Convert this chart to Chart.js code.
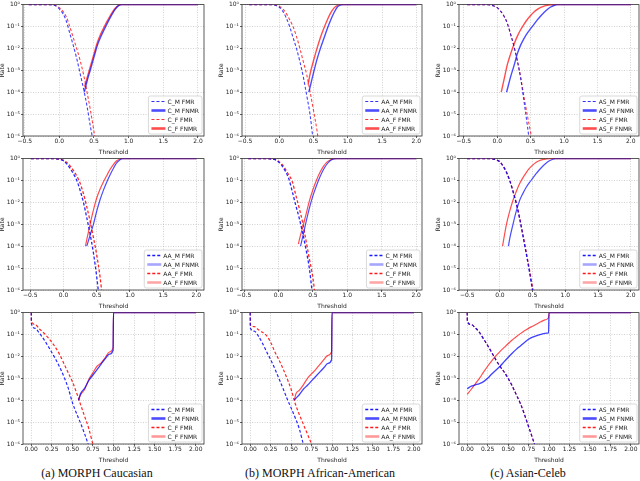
<!DOCTYPE html>
<html>
<head>
<meta charset="utf-8">
<script src="https://cdn.jsdelivr.net/npm/chart.js@4.4.0/dist/chart.umd.min.js"></script>
<style>
  body { margin: 0; background: #fff; width: 640px; height: 481px; position: relative; overflow: hidden; }
  .cap { position: absolute; top: 466px; width: 220px; text-align: center; font: 12px 'Liberation Serif', 'Times New Roman', serif; color: #111; line-height: 15px; }
</style>
</head>
<body>
<div class="cap" style="left:-13px">(a) MORPH Caucasian</div>
<div class="cap" style="left:210px">(b) MORPH African-American</div>
<div class="cap" style="left:418px">(c) Asian-Celeb</div>
<script>
// tick values
const rateTicks = [1e-6, 1e-5, 1e-4, 1e-3, 1e-2, 1e-1, 1];
const thrTicksWide = [-0.5, 0.0, 0.5, 1.0, 1.5, 2.0];
const thrTicksUnit = [0.0, 0.25, 0.5, 0.75, 1.0, 1.25, 1.5, 1.75, 2.0];

// every series is [threshold, log10(rate)]

// row 1, MORPH Caucasian
const c1_mFMR  = [[-0.44,0],[-0.2,0],[-0.1,-0.02],[-0.05,-0.06],[0,-0.2],[0.05,-0.4],[0.1,-0.75],[0.15,-1.3],[0.2,-1.85],[0.25,-2.45],[0.3,-3.15],[0.35,-3.85],[0.4,-4.65],[0.45,-5.6],[0.48,-6.1]];
const c1_mFNMR = [[0.36,-4.0],[0.4,-3.5],[0.45,-2.95],[0.5,-2.4],[0.55,-1.85],[0.6,-1.45],[0.65,-1.12],[0.7,-0.8],[0.75,-0.5],[0.8,-0.24],[0.85,-0.06],[0.9,0],[2.0,0]];
const c1_fFMR  = [[-0.44,0],[-0.2,0],[-0.1,-0.01],[-0.05,-0.04],[0,-0.14],[0.05,-0.3],[0.1,-0.55],[0.15,-1.0],[0.2,-1.5],[0.25,-2.0],[0.3,-2.55],[0.35,-3.2],[0.4,-4.0],[0.45,-4.85],[0.5,-5.8],[0.52,-6.2]];
const c1_fFNMR = [[0.365,-3.75],[0.4,-3.35],[0.45,-2.8],[0.5,-2.25],[0.55,-1.72],[0.6,-1.32],[0.65,-1.0],[0.7,-0.7],[0.75,-0.42],[0.8,-0.19],[0.85,-0.04],[0.9,0],[2.0,0]];

// row 1, MORPH African-American
const a1_mFMR  = [[-0.44,0],[-0.2,0],[-0.1,-0.01],[-0.05,-0.04],[0,-0.12],[0.05,-0.3],[0.1,-0.6],[0.15,-1.0],[0.2,-1.5],[0.25,-2.0],[0.3,-2.6],[0.35,-3.3],[0.4,-4.15],[0.45,-5.05],[0.49,-6.1]];
const a1_mFNMR = [[0.43,-4.0],[0.45,-3.75],[0.5,-3.1],[0.55,-2.5],[0.6,-2.0],[0.65,-1.55],[0.7,-1.1],[0.75,-0.7],[0.8,-0.36],[0.85,-0.1],[0.9,-0.01],[0.93,0],[2.0,0]];
const a1_fFMR  = [[-0.44,0],[-0.2,0],[-0.1,-0.01],[-0.05,-0.03],[0,-0.08],[0.05,-0.2],[0.1,-0.4],[0.15,-0.68],[0.2,-1.0],[0.25,-1.45],[0.3,-2.0],[0.35,-2.6],[0.4,-3.2],[0.45,-4.0],[0.5,-4.85],[0.55,-5.75],[0.57,-6.2]];
const a1_fFNMR = [[0.42,-3.65],[0.45,-3.15],[0.5,-2.55],[0.55,-2.0],[0.6,-1.5],[0.65,-1.08],[0.7,-0.7],[0.75,-0.38],[0.8,-0.15],[0.85,-0.03],[0.88,0],[2.0,0]];

// row 1, Asian-Celeb
const s1_mFMR  = [[-0.45,0],[-0.2,0],[-0.1,-0.02],[-0.05,-0.06],[0,-0.14],[0.05,-0.3],[0.1,-0.52],[0.15,-0.85],[0.2,-1.35],[0.25,-1.9],[0.3,-2.55],[0.35,-3.35],[0.4,-4.4],[0.45,-5.5],[0.48,-6.2]];
const s1_mFNMR = [[0.14,-4.0],[0.2,-3.3],[0.25,-2.8],[0.3,-2.25],[0.35,-1.85],[0.4,-1.55],[0.45,-1.3],[0.5,-1.1],[0.55,-0.9],[0.6,-0.7],[0.65,-0.52],[0.7,-0.36],[0.75,-0.22],[0.8,-0.11],[0.85,-0.04],[0.9,0],[2.0,0]];
const s1_fFMR  = [[-0.45,0],[-0.2,0],[-0.1,-0.02],[-0.05,-0.06],[0,-0.14],[0.05,-0.3],[0.1,-0.52],[0.15,-0.85],[0.2,-1.35],[0.25,-1.9],[0.3,-2.55],[0.35,-3.3],[0.4,-4.2],[0.45,-5.05],[0.5,-5.85],[0.52,-6.2]];
const s1_fFNMR = [[0.06,-4.0],[0.1,-3.45],[0.15,-2.75],[0.2,-2.25],[0.25,-1.82],[0.3,-1.45],[0.35,-1.15],[0.4,-0.9],[0.45,-0.68],[0.5,-0.5],[0.55,-0.34],[0.6,-0.22],[0.65,-0.13],[0.7,-0.07],[0.75,-0.03],[0.8,-0.01],[0.86,0],[2.0,0]];

// row 2, MORPH Caucasian column (legend reads AA)
const a2_mFMR  = [[-0.49,0],[-0.2,0],[-0.1,-0.01],[-0.05,-0.04],[0,-0.1],[0.05,-0.25],[0.1,-0.45],[0.15,-0.7],[0.2,-1.0],[0.25,-1.45],[0.3,-2.0],[0.35,-2.7],[0.4,-3.45],[0.45,-4.3],[0.5,-5.4],[0.53,-6.2]];
const a2_mFNMR = [[0.35,-4.0],[0.4,-3.5],[0.45,-3.0],[0.5,-2.4],[0.55,-1.88],[0.6,-1.45],[0.65,-1.08],[0.7,-0.75],[0.75,-0.45],[0.8,-0.2],[0.85,-0.05],[0.89,0],[2.0,0]];
const a2_fFMR  = [[-0.49,0],[-0.2,0],[-0.1,-0.01],[-0.05,-0.03],[0,-0.08],[0.05,-0.18],[0.1,-0.34],[0.15,-0.55],[0.2,-0.8],[0.25,-1.12],[0.3,-1.6],[0.35,-2.2],[0.4,-2.85],[0.45,-3.6],[0.5,-4.4],[0.55,-5.4],[0.58,-6.2]];
const a2_fFNMR = [[0.33,-4.0],[0.35,-3.7],[0.4,-3.0],[0.45,-2.35],[0.5,-1.8],[0.55,-1.4],[0.6,-1.07],[0.65,-0.78],[0.7,-0.5],[0.75,-0.27],[0.8,-0.1],[0.85,-0.02],[0.88,0],[2.0,0]];

// row 2, MORPH African-American column (legend reads C)
const c2_mFMR  = [[-0.44,0],[-0.2,0],[-0.1,-0.02],[-0.05,-0.05],[0,-0.15],[0.05,-0.32],[0.1,-0.58],[0.15,-0.92],[0.2,-1.5],[0.25,-2.12],[0.3,-2.7],[0.35,-3.38],[0.4,-4.15],[0.45,-5.05],[0.49,-6.1]];
const c2_mFNMR = [[0.32,-4.0],[0.35,-3.6],[0.4,-2.9],[0.45,-2.25],[0.5,-1.7],[0.55,-1.25],[0.6,-0.85],[0.65,-0.52],[0.7,-0.27],[0.75,-0.1],[0.8,-0.02],[0.85,0],[2.0,0]];
const c2_fFMR  = [[-0.44,0],[-0.2,0],[-0.1,-0.01],[-0.05,-0.04],[0,-0.12],[0.05,-0.26],[0.1,-0.48],[0.15,-0.75],[0.2,-1.05],[0.25,-1.65],[0.3,-2.25],[0.35,-2.9],[0.4,-3.75],[0.45,-4.6],[0.5,-5.45],[0.53,-6.2]];
const c2_fFNMR = [[0.29,-3.9],[0.3,-3.75],[0.35,-3.15],[0.4,-2.55],[0.45,-1.92],[0.5,-1.42],[0.55,-1.0],[0.6,-0.65],[0.65,-0.37],[0.7,-0.17],[0.75,-0.06],[0.8,-0.01],[0.83,0],[2.0,0]];

// row 2, Asian-Celeb
const s2_mFMR  = [[-0.5,0],[-0.2,0],[-0.1,-0.02],[-0.05,-0.06],[0,-0.15],[0.05,-0.35],[0.1,-0.62],[0.15,-1.0],[0.2,-1.5],[0.25,-2.05],[0.3,-2.72],[0.35,-3.5],[0.4,-4.3],[0.45,-5.15],[0.5,-6.05]];
const s2_mFNMR = [[0.13,-4.0],[0.15,-3.65],[0.2,-3.0],[0.25,-2.4],[0.3,-1.92],[0.35,-1.6],[0.4,-1.32],[0.45,-1.1],[0.5,-0.9],[0.55,-0.7],[0.6,-0.52],[0.65,-0.36],[0.7,-0.22],[0.75,-0.11],[0.8,-0.04],[0.85,0],[2.0,0]];
const s2_fFMR  = [[-0.5,0],[-0.2,0],[-0.1,-0.02],[-0.05,-0.06],[0,-0.15],[0.05,-0.35],[0.1,-0.62],[0.15,-1.0],[0.2,-1.48],[0.25,-2.02],[0.3,-2.68],[0.35,-3.45],[0.4,-4.25],[0.45,-5.05],[0.5,-5.9],[0.52,-6.2]];
const s2_fFNMR = [[0.04,-4.0],[0.1,-3.0],[0.15,-2.4],[0.2,-1.9],[0.25,-1.5],[0.3,-1.15],[0.35,-0.88],[0.4,-0.65],[0.45,-0.45],[0.5,-0.3],[0.55,-0.18],[0.6,-0.1],[0.65,-0.05],[0.7,-0.02],[0.76,0],[2.0,0]];

// row 3, MORPH Caucasian
const c3_mFMR  = [[0,0],[0.002,-0.5],[0.05,-0.72],[0.1,-0.95],[0.15,-1.2],[0.2,-1.5],[0.25,-1.82],[0.3,-2.15],[0.35,-2.52],[0.4,-2.95],[0.45,-3.45],[0.5,-4.1],[0.55,-4.6],[0.6,-5.05],[0.65,-5.55],[0.7,-6.1]];
const c3_mFNMR = [[0.575,-4.0],[0.6,-3.7],[0.65,-3.45],[0.7,-3.1],[0.75,-2.85],[0.8,-2.6],[0.85,-2.35],[0.9,-2.1],[0.95,-1.9],[0.995,-1.72],[1.0,0],[2.0,0]];
const c3_fFMR  = [[0,0],[0.002,-0.37],[0.05,-0.55],[0.1,-0.75],[0.15,-0.92],[0.2,-1.12],[0.25,-1.35],[0.3,-1.62],[0.35,-1.95],[0.4,-2.35],[0.45,-2.75],[0.5,-3.15],[0.55,-3.65],[0.6,-4.2],[0.65,-4.75],[0.7,-5.3],[0.75,-6.0],[0.76,-6.1]];
const c3_fFNMR = [[0.575,-4.0],[0.6,-3.75],[0.65,-3.5],[0.7,-3.05],[0.75,-2.75],[0.8,-2.45],[0.85,-2.3],[0.9,-2.05],[0.95,-1.8],[0.995,-1.6],[1.0,0],[2.0,0]];

// row 3, MORPH African-American
const a3_mFMR  = [[0,0],[0.002,-0.7],[0.05,-0.85],[0.1,-1.07],[0.15,-1.4],[0.2,-1.78],[0.25,-2.15],[0.3,-2.55],[0.35,-3.0],[0.4,-3.45],[0.45,-3.92],[0.5,-4.35],[0.55,-4.8],[0.6,-5.3],[0.65,-6.0],[0.66,-6.1]];
const a3_mFNMR = [[0.54,-4.0],[0.55,-3.95],[0.6,-3.75],[0.65,-3.5],[0.7,-3.32],[0.75,-3.12],[0.8,-2.92],[0.85,-2.72],[0.9,-2.52],[0.95,-2.32],[0.995,-2.15],[1.0,0],[2.0,0]];
const a3_fFMR  = [[0,0],[0.002,-0.55],[0.05,-0.64],[0.1,-0.78],[0.15,-0.9],[0.2,-1.05],[0.25,-1.35],[0.3,-1.78],[0.35,-2.15],[0.4,-2.55],[0.45,-3.0],[0.5,-3.5],[0.55,-4.15],[0.6,-4.65],[0.65,-5.1],[0.7,-5.55],[0.75,-6.0],[0.76,-6.1]];
const a3_fFNMR = [[0.54,-4.0],[0.56,-3.7],[0.6,-3.55],[0.65,-3.3],[0.7,-3.0],[0.75,-2.8],[0.8,-2.6],[0.85,-2.38],[0.9,-2.15],[0.95,-1.95],[0.995,-1.78],[1.0,0],[2.0,0]];

// row 3, Asian-Celeb
const s3_mFMR  = [[0,0],[0.002,-0.4],[0.05,-0.55],[0.1,-0.7],[0.15,-0.9],[0.2,-1.2],[0.25,-1.5],[0.3,-1.82],[0.35,-2.15],[0.4,-2.45],[0.45,-2.7],[0.5,-3.0],[0.55,-3.35],[0.6,-3.75],[0.65,-4.15],[0.7,-4.65],[0.75,-5.2],[0.8,-5.75],[0.83,-6.1]];
const s3_mFNMR = [[0,-3.48],[0.05,-3.36],[0.1,-3.3],[0.15,-3.24],[0.2,-3.15],[0.25,-3.0],[0.3,-2.8],[0.35,-2.63],[0.4,-2.46],[0.45,-2.25],[0.5,-2.05],[0.55,-1.86],[0.6,-1.68],[0.65,-1.52],[0.7,-1.36],[0.75,-1.22],[0.8,-1.12],[0.85,-1.05],[0.9,-0.99],[0.95,-0.95],[0.995,-0.93],[1.0,0],[2.0,0]];
const s3_fFMR  = [[0,0],[0.002,-0.4],[0.05,-0.55],[0.1,-0.7],[0.15,-0.9],[0.2,-1.2],[0.25,-1.5],[0.3,-1.82],[0.35,-2.15],[0.4,-2.45],[0.45,-2.7],[0.5,-3.0],[0.55,-3.35],[0.6,-3.75],[0.65,-4.15],[0.7,-4.65],[0.75,-5.2],[0.8,-5.75],[0.83,-6.1]];
const s3_fFNMR = [[0,-3.73],[0.05,-3.5],[0.1,-3.25],[0.15,-3.0],[0.2,-2.72],[0.25,-2.45],[0.3,-2.2],[0.35,-1.98],[0.4,-1.78],[0.45,-1.6],[0.5,-1.42],[0.55,-1.25],[0.6,-1.1],[0.65,-0.96],[0.7,-0.83],[0.75,-0.72],[0.8,-0.62],[0.85,-0.52],[0.9,-0.42],[0.95,-0.33],[0.995,-0.22],[1.0,0],[2.0,0]];

const panels = [
  {row: 0, col: 0, m: 'C_M',  f: 'C_F',  xr: [-0.524, 2.087], xt: thrTicksWide, s: [c1_mFMR, c1_mFNMR, c1_fFMR, c1_fFNMR]},
  {row: 0, col: 1, m: 'AA_M', f: 'AA_F', xr: [-0.545, 2.083], xt: thrTicksWide, s: [a1_mFMR, a1_mFNMR, a1_fFMR, a1_fFNMR]},
  {row: 0, col: 2, m: 'AS_M', f: 'AS_F', xr: [-0.5725, 2.1225], xt: thrTicksWide, s: [s1_mFMR, s1_mFNMR, s1_fFMR, s1_fFNMR]},
  {row: 1, col: 0, m: 'AA_M', f: 'AA_F', xr: [-0.61, 2.115], xt: thrTicksWide, s: [a2_mFMR, a2_mFNMR, a2_fFMR, a2_fFNMR]},
  {row: 1, col: 1, m: 'C_M',  f: 'C_F',  xr: [-0.53, 2.085], xt: thrTicksWide, s: [c2_mFMR, c2_mFNMR, c2_fFMR, c2_fFNMR]},
  {row: 1, col: 2, m: 'AS_M', f: 'AS_F', xr: [-0.625, 2.125], xt: thrTicksWide, s: [s2_mFMR, s2_mFNMR, s2_fFMR, s2_fFNMR]},
  {row: 2, col: 0, m: 'C_M',  f: 'C_F',  xr: [-0.1, 2.1], xt: thrTicksUnit, s: [c3_mFMR, c3_mFNMR, c3_fFMR, c3_fFNMR]},
  {row: 2, col: 1, m: 'AA_M', f: 'AA_F', xr: [-0.1, 2.1], xt: thrTicksUnit, s: [a3_mFMR, a3_mFNMR, a3_fFMR, a3_fFNMR]},
  {row: 2, col: 2, m: 'AS_M', f: 'AS_F', xr: [-0.1, 2.1], xt: thrTicksUnit, s: [s3_mFMR, s3_mFNMR, s3_fFMR, s3_fFNMR]}
];

// plot-area geometry on the page
const colLeft = [23, 242, 459];
const colWidth = [181, 180, 180];
const rowTop = [3, 157, 311];
const plotH = 133;
const AXIS_W = 24, AXIS_H = 20, PAD_T = 3, PAD_R = 2;

const BLUE = a => `rgba(0,0,255,${a})`;
const RED = a => `rgba(255,0,0,${a})`;

// line look per row: [mFMR, mFNMR, fFMR, fFNMR]; lc/lw = legend swatch
function rowStyles(row) {
  if (row === 0) {
    return [
      {c: BLUE(0.75), w: 1.1, dash: [3, 2], lc: BLUE(0.8), lw: 1.1},
      {c: BLUE(0.7),  w: 1.4, dash: [],     lc: BLUE(0.7), lw: 2.6},
      {c: RED(0.75),  w: 1.1, dash: [3, 2], lc: RED(0.8),  lw: 1.1},
      {c: RED(0.7),   w: 1.4, dash: [],     lc: RED(0.7),  lw: 2.6}
    ];
  }
  if (row === 1) {
    return [
      {c: BLUE(0.85), w: 1.3, dash: [3, 2], lc: BLUE(0.9), lw: 1.6},
      {c: BLUE(0.7),  w: 1.2, dash: [],     lc: BLUE(0.35), lw: 2.6},
      {c: RED(0.85),  w: 1.3, dash: [3, 2], lc: RED(0.9),  lw: 1.6},
      {c: RED(0.7),   w: 1.2, dash: [],     lc: RED(0.35),  lw: 2.6}
    ];
  }
  return [
    {c: BLUE(0.85), w: 1.2, dash: [3, 2], lc: BLUE(0.9), lw: 1.6},
    {c: BLUE(0.75), w: 1.3, dash: [],     lc: BLUE(0.7), lw: 2.6},
    {c: RED(0.85),  w: 1.2, dash: [3, 2], lc: RED(0.9),  lw: 1.6},
    {c: RED(0.7),   w: 1.2, dash: [],     lc: RED(0.4),  lw: 2.6}
  ];
}

const SUP = {'-': '⁻', '0': '⁰', '1': '¹', '2': '²', '3': '³', '4': '⁴', '5': '⁵', '6': '⁶'};
function powLabel(v) {
  const e = Math.round(Math.log10(v));
  return '10' + String(e).split('').map(ch => SUP[ch]).join('');
}

Chart.defaults.font.family = "'DejaVu Sans', sans-serif";
Chart.defaults.font.size = 6;
Chart.defaults.color = '#222';

// box frame under the lines, legend box on top
const frameAndLegend = {
  id: 'frameAndLegend',
  beforeDatasetsDraw(chart) {
    const {ctx, chartArea: a} = chart;
    ctx.save();
    ctx.strokeStyle = '#333';
    ctx.lineWidth = 0.8;
    ctx.strokeRect(a.left, a.top, a.right - a.left, a.bottom - a.top);
    ctx.restore();
  },
  afterDraw(chart) {
    const {ctx, chartArea: a} = chart;
    const sets = chart.data.datasets;
    ctx.save();
    ctx.font = "6px 'DejaVu Sans', sans-serif";
    const tw = Math.max(...sets.map(d => ctx.measureText(d.label).width));
    const rowH = 9, sw = 14;
    const w = 3 + sw + 2 + tw + 3;
    const h = sets.length * rowH + 2;
    const x0 = a.right - w - 2, y0 = a.bottom - h - 2;
    ctx.beginPath();
    ctx.roundRect(x0, y0, w, h, 2);
    ctx.fillStyle = 'rgba(255,255,255,0.85)';
    ctx.fill();
    ctx.strokeStyle = '#d0d0d0';
    ctx.lineWidth = 0.8;
    ctx.stroke();
    sets.forEach((d, i) => {
      const y = y0 + 1 + rowH * i + rowH / 2;
      ctx.beginPath();
      ctx.setLineDash(d.legDash);
      ctx.strokeStyle = d.legColor;
      ctx.lineWidth = d.legWidth;
      ctx.moveTo(x0 + 3, y);
      ctx.lineTo(x0 + 3 + sw, y);
      ctx.stroke();
      ctx.setLineDash([]);
      ctx.fillStyle = '#222';
      ctx.textBaseline = 'middle';
      ctx.fillText(d.label, x0 + 3 + sw + 2, y + 0.5);
    });
    ctx.restore();
  }
};

function buildPanel(p) {
  const pw = colWidth[p.col];
  const W = AXIS_W + pw + PAD_R, H = PAD_T + plotH + AXIS_H;
  const cv = document.createElement('canvas');
  cv.width = W;
  cv.height = H;
  cv.style.cssText = `position:absolute;left:${colLeft[p.col] - AXIS_W}px;top:${rowTop[p.row] - PAD_T}px;width:${W}px;height:${H}px`;
  document.body.appendChild(cv);

  const labels = [p.m + ' FMR', p.m + ' FNMR', p.f + ' FMR', p.f + ' FNMR'];
  const st = rowStyles(p.row);
  const datasets = p.s.map((pts, i) => ({
    label: labels[i],
    data: pts.map(([t, e]) => ({x: t, y: 10 ** e})),
    borderColor: st[i].c,
    borderWidth: st[i].w,
    borderDash: st[i].dash,
    legColor: st[i].lc,
    legWidth: st[i].lw,
    legDash: st[i].dash,
    pointRadius: 0,
    fill: false,
    cubicInterpolationMode: 'monotone'
  }));

  const gridCommon = {color: 'rgba(170,170,170,0.9)', lineWidth: 0.6, tickLength: 2, tickColor: '#333', tickWidth: 0.8, tickBorderDash: []};

  new Chart(cv, {
    type: 'line',
    data: {datasets},
    options: {
      responsive: false,
      animation: false,
      devicePixelRatio: 1,
      layout: {padding: {top: PAD_T, right: PAD_R, left: 0, bottom: 0}},
      plugins: {legend: {display: false}, tooltip: {enabled: false}},
      scales: {
        x: {
          type: 'linear',
          min: p.xr[0],
          max: p.xr[1],
          afterBuildTicks: s => { s.ticks = p.xt.map(v => ({value: v})); },
          afterFit: s => { s.height = AXIS_H; },
          grid: gridCommon,
          border: {display: false, dash: [1, 1.5]},
          ticks: {
            padding: 0,
            maxRotation: 0,
            autoSkip: false,
            callback: v => (p.row === 2 ? v.toFixed(2) : v.toFixed(1)).replace('-', '\u2212')
          },
          title: {display: true, text: 'Threshold', padding: {top: 0, bottom: 0}}
        },
        y: {
          type: 'logarithmic',
          min: 1e-6,
          max: 1,
          afterBuildTicks: s => { s.ticks = rateTicks.map(v => ({value: v})); },
          afterFit: s => { s.width = AXIS_W; },
          grid: gridCommon,
          border: {display: false, dash: [1, 1.5]},
          ticks: {padding: 1, autoSkip: false, callback: v => powLabel(v)},
          title: {display: true, text: 'Rate', padding: 0}
        }
      }
    },
    plugins: [frameAndLegend]
  });
}

panels.forEach(buildPanel);
</script>
</body>
</html>
